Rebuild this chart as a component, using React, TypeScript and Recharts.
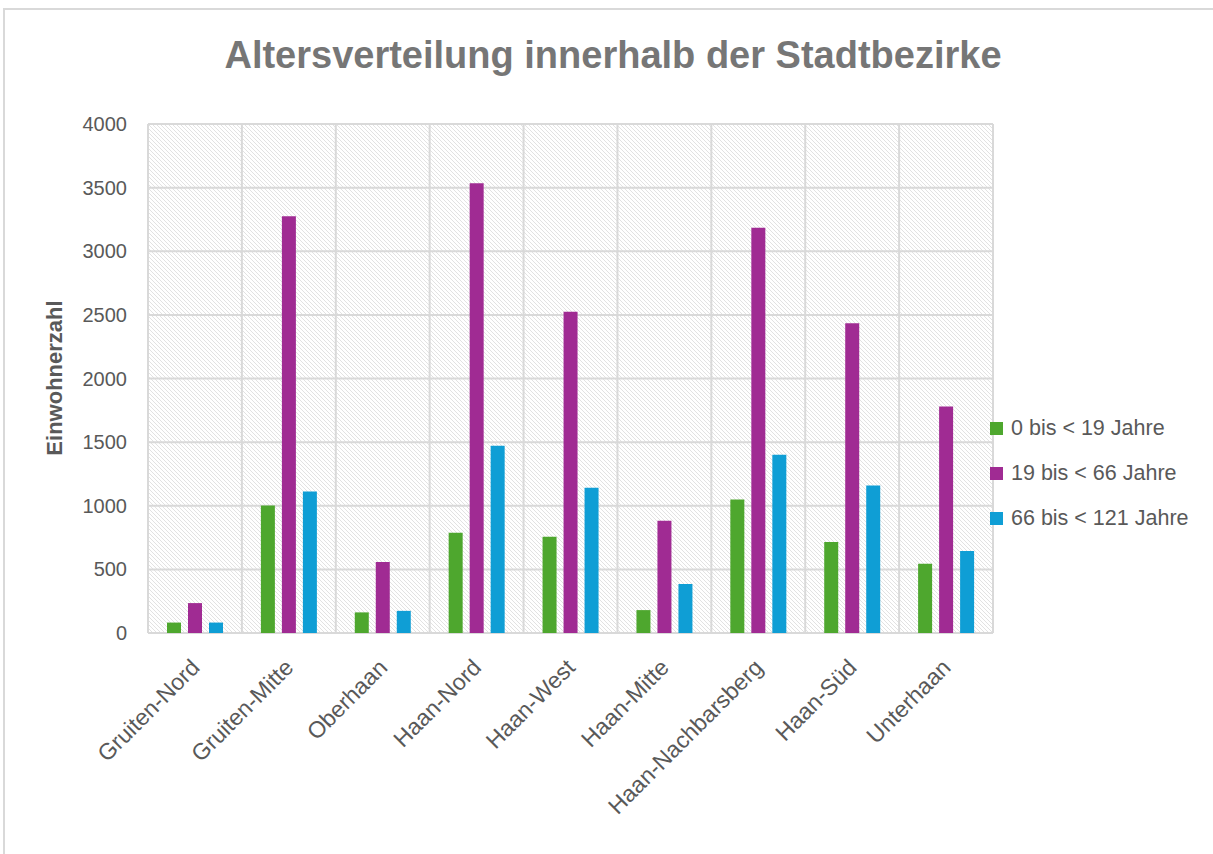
import React from "react";
import { BarChart, Bar, XAxis, YAxis, CartesianGrid, Legend } from "recharts";

const categories = [
  "Gruiten-Nord",
  "Gruiten-Mitte",
  "Oberhaan",
  "Haan-Nord",
  "Haan-West",
  "Haan-Mitte",
  "Haan-Nachbarsberg",
  "Haan-Süd",
  "Unterhaan",
];
const young = [82, 1002, 162, 788, 756, 180, 1050, 716, 545];
const middle = [235, 3275, 558, 3535, 2525, 883, 3184, 2435, 1780];
const old = [82, 1112, 174, 1471, 1142, 385, 1400, 1160, 645];
const yTicks = [0, 500, 1000, 1500, 2000, 2500, 3000, 3500, 4000];

const seriesNames = ["0 bis < 19 Jahre", "19 bis < 66 Jahre", "66 bis < 121 Jahre"];
const colors = ["#4EA72E", "#A02B93", "#0F9ED5"];

const data = categories.map((c, i) => ({
  name: c,
  young: young[i],
  middle: middle[i],
  old: old[i],
}));

const FONT = "'Liberation Sans', Arial, sans-serif";
const TEXT = "#595959";
const GRID = "#d9d9d9";

const XTick = (props: any) => {
  const { x, y, payload } = props;
  return (
    <g transform={`translate(${x + 6},${y + 36}) rotate(-45)`}>
      <text x={0} y={0} textAnchor="end" fill={TEXT} fontSize={23} fontFamily={FONT}>
        {payload.value}
      </text>
    </g>
  );
};

const LegendContent = () => (
  <div style={{ fontFamily: FONT }}>
    {seriesNames.map((n, i) => (
      <div
        key={n}
        style={{ display: "flex", alignItems: "center", height: 45, whiteSpace: "nowrap" }}
      >
        <div style={{ width: 13, height: 13, background: colors[i], marginRight: 8 }} />
        <span style={{ fontSize: 21.5, color: TEXT }}>{n}</span>
      </div>
    ))}
  </div>
);

export default function App() {
  return (
    <div style={{ position: "absolute", left: 0, top: 0, width: 1213, height: 854, background: "#fff", overflow: "hidden" }}>
      <div
        style={{
          position: "absolute",
          left: 3,
          top: 8,
          width: 1220,
          height: 900,
          borderTop: `2px solid ${GRID}`,
          borderLeft: `2px solid ${GRID}`,
        }}
      />
      <svg width={1213} height={854} style={{ position: "absolute", left: 0, top: 0 }}>
        <text
          x={613}
          y={68}
          textAnchor="middle"
          fontFamily={FONT}
          fontWeight="bold"
          fontSize={38}
          fill="#767676"
        >
          Altersverteilung innerhalb der Stadtbezirke
        </text>
        <text
          x={0}
          y={0}
          transform="translate(62,378) rotate(-90)"
          textAnchor="middle"
          fontFamily={FONT}
          fontWeight="bold"
          fontSize={22}
          fill={TEXT}
        >
          Einwohnerzahl
        </text>
      </svg>
      <div style={{ position: "absolute", left: 0, top: 0 }}>
        <BarChart
          width={1213}
          height={854}
          data={data}
          margin={{ top: 124, right: 220, left: 0, bottom: 71 }}
          barSize={14}
          barGap={7}
        >
          <defs>
            <pattern id="hatch" patternUnits="userSpaceOnUse" width={4} height={4}>
              <rect width={4} height={4} fill="#ffffff" />
              <path d="M-1,-1 L5,5 M-1,3 L1,5 M3,-1 L5,1" stroke="#e2e2e2" strokeWidth={1} />
            </pattern>
          </defs>
          <CartesianGrid
            fill="url(#hatch)"
            stroke={GRID}
            strokeWidth={2}
            verticalCoordinatesGenerator={({ offset }: any) =>
              categories.map((_, i) => offset.left + (i * offset.width) / categories.length).concat([offset.left + offset.width])
            }
          />
          <XAxis
            dataKey="name"
            height={150}
            interval={0}
            tick={<XTick />}
            tickLine={false}
            axisLine={false}
            tickSize={0}
            tickMargin={0}
          />
          <YAxis
            width={148}
            domain={[0, 4000]}
            ticks={yTicks}
            interval={0}
            tickLine={false}
            axisLine={false}
            tickSize={0}
            tickMargin={21}
            tick={{ fill: TEXT, fontSize: 20, fontFamily: FONT }}
          />
          <Legend
            layout="vertical"
            align="center"
            verticalAlign="middle"
            content={<LegendContent />}
            wrapperStyle={{ left: 990, top: 406, width: 220 }}
          />
          <Bar dataKey="young" name={seriesNames[0]} fill={colors[0]} isAnimationActive={false} />
          <Bar dataKey="middle" name={seriesNames[1]} fill={colors[1]} isAnimationActive={false} />
          <Bar dataKey="old" name={seriesNames[2]} fill={colors[2]} isAnimationActive={false} />
        </BarChart>
      </div>
    </div>
  );
}
